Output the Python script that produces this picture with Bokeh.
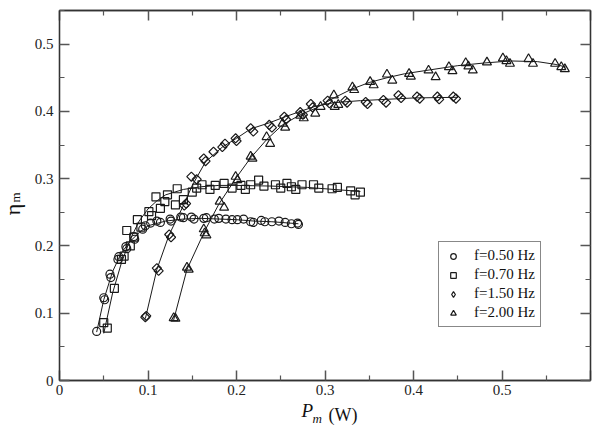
import numpy as np
from bokeh.plotting import figure
from bokeh.models import (LinearAxis, FixedTicker, CustomJSTickFormatter, Label,
                          Legend, LegendItem)
from bokeh.embed import file_html
from bokeh.resources import INLINE

# ---------------- data ----------------
# f = 0.50 Hz (circles)
c_x = [0.042, 0.050, 0.057, 0.067, 0.075, 0.084, 0.094, 0.103, 0.114, 0.126, 0.137,
       0.149, 0.163, 0.175, 0.188, 0.201, 0.216, 0.228, 0.240, 0.255, 0.269,
       0.051, 0.058, 0.066, 0.076, 0.085, 0.097, 0.110, 0.125, 0.140, 0.152,
       0.166, 0.180, 0.195, 0.208, 0.219, 0.232, 0.248, 0.262, 0.270]
c_y = [0.073, 0.123, 0.158, 0.184, 0.199, 0.214, 0.225, 0.234, 0.235, 0.237, 0.243,
       0.243, 0.241, 0.240, 0.240, 0.239, 0.236, 0.238, 0.236, 0.235, 0.234,
       0.120, 0.153, 0.180, 0.196, 0.210, 0.230, 0.237, 0.240, 0.242, 0.240,
       0.242, 0.241, 0.239, 0.240, 0.235, 0.236, 0.237, 0.233, 0.232]
c_fx = [0.042, 0.050, 0.060, 0.070, 0.080, 0.090, 0.100, 0.120, 0.140, 0.160, 0.180,
        0.200, 0.220, 0.240, 0.270]
c_fy = [0.072, 0.120, 0.162, 0.190, 0.207, 0.220, 0.230, 0.237, 0.240, 0.241, 0.240,
        0.239, 0.237, 0.236, 0.233]

# f = 0.70 Hz (squares)
s_x = [0.050, 0.054, 0.062, 0.070, 0.073, 0.076, 0.080, 0.084, 0.088, 0.092, 0.101,
       0.104, 0.109, 0.114, 0.119, 0.122, 0.131, 0.133, 0.140, 0.150, 0.155, 0.161,
       0.170, 0.176, 0.186, 0.195, 0.205, 0.210, 0.216, 0.225, 0.231, 0.244, 0.250,
       0.257, 0.262, 0.267, 0.274, 0.287, 0.293, 0.308, 0.314, 0.329, 0.334, 0.340]
s_y = [0.086, 0.078, 0.137, 0.180, 0.185, 0.223, 0.200, 0.213, 0.239, 0.228, 0.251,
       0.245, 0.273, 0.256, 0.266, 0.276, 0.261, 0.285, 0.269, 0.280, 0.286, 0.291,
       0.284, 0.290, 0.293, 0.286, 0.290, 0.284, 0.291, 0.298, 0.289, 0.291, 0.286,
       0.293, 0.288, 0.284, 0.291, 0.291, 0.286, 0.285, 0.287, 0.282, 0.276, 0.280]
s_fx = [0.050, 0.060, 0.070, 0.080, 0.090, 0.100, 0.110, 0.120, 0.140, 0.160, 0.180,
        0.200, 0.240, 0.280, 0.310, 0.340]
s_fy = [0.070, 0.130, 0.175, 0.210, 0.237, 0.255, 0.267, 0.276, 0.284, 0.288, 0.290,
        0.290, 0.289, 0.287, 0.284, 0.281]

# f = 1.50 Hz (diamonds)
d_x = [0.097, 0.098, 0.110, 0.112, 0.124, 0.126, 0.141, 0.143, 0.149, 0.155, 0.163,
       0.165, 0.174, 0.184, 0.187, 0.199, 0.200, 0.216, 0.219, 0.237, 0.240, 0.254,
       0.256, 0.272, 0.275, 0.284, 0.286, 0.303, 0.305, 0.323, 0.325, 0.346, 0.348,
       0.366, 0.369, 0.383, 0.386, 0.404, 0.407, 0.427, 0.429, 0.445, 0.448]
d_y = [0.094, 0.096, 0.167, 0.163, 0.217, 0.213, 0.260, 0.263, 0.303, 0.299, 0.330,
       0.326, 0.340, 0.347, 0.352, 0.360, 0.356, 0.375, 0.370, 0.380, 0.376, 0.392,
       0.388, 0.399, 0.395, 0.411, 0.406, 0.416, 0.412, 0.416, 0.413, 0.414, 0.411,
       0.417, 0.413, 0.424, 0.420, 0.422, 0.419, 0.422, 0.418, 0.422, 0.419]
d_fx = [0.097, 0.110, 0.124, 0.140, 0.150, 0.165, 0.184, 0.200, 0.216, 0.237, 0.255,
        0.272, 0.290, 0.310, 0.340, 0.370, 0.400, 0.450]
d_fy = [0.092, 0.165, 0.217, 0.260, 0.290, 0.325, 0.347, 0.360, 0.374, 0.383, 0.392,
        0.400, 0.408, 0.413, 0.416, 0.418, 0.420, 0.421]

# f = 2.00 Hz (triangles)
t_x = [0.129, 0.131, 0.144, 0.146, 0.163, 0.164, 0.166, 0.181, 0.186, 0.199, 0.201,
       0.216, 0.218, 0.234, 0.238, 0.252, 0.255, 0.272, 0.276, 0.289, 0.295, 0.310,
       0.311, 0.315, 0.331, 0.333, 0.351, 0.355, 0.370, 0.376, 0.395, 0.397, 0.417,
       0.425, 0.440, 0.444, 0.459, 0.462, 0.467, 0.483, 0.501, 0.505, 0.509, 0.530,
       0.535, 0.560, 0.567, 0.571]
t_y = [0.093, 0.092, 0.168, 0.165, 0.225, 0.219, 0.216, 0.266, 0.257, 0.303, 0.298,
       0.333, 0.330, 0.362, 0.352, 0.382, 0.376, 0.394, 0.390, 0.397, 0.407, 0.424,
       0.407, 0.410, 0.436, 0.432, 0.444, 0.439, 0.455, 0.446, 0.456, 0.452, 0.461,
       0.451, 0.466, 0.460, 0.472, 0.467, 0.461, 0.473, 0.479, 0.475, 0.471, 0.478,
       0.471, 0.471, 0.466, 0.463]
t_fx = [0.129, 0.144, 0.164, 0.180, 0.200, 0.216, 0.234, 0.252, 0.272, 0.290, 0.310,
        0.330, 0.350, 0.370, 0.390, 0.420, 0.450, 0.480, 0.510, 0.540, 0.560, 0.572]
t_fy = [0.090, 0.165, 0.222, 0.262, 0.302, 0.331, 0.358, 0.380, 0.395, 0.405, 0.420,
        0.433, 0.443, 0.450, 0.456, 0.462, 0.468, 0.472, 0.475, 0.474, 0.470, 0.466]

legend_labels = ["f=0.50 Hz", "f=0.70 Hz", "f=1.50 Hz", "f=2.00 Hz"]
x_ticks = [0.0, 0.1, 0.2, 0.3, 0.4, 0.5, 0.6]
x_minor = [0.05, 0.15, 0.25, 0.35, 0.45, 0.55]
y_ticks = [0.0, 0.1, 0.2, 0.3, 0.4, 0.5]
y_minor = [0.05, 0.15, 0.25, 0.35, 0.45, 0.55]

# ---------------- figure ----------------
FONT = "Liberation Serif"
TC = "#111111"
p = figure(width=600, height=438, x_range=(0, 0.6), y_range=(0, 0.55),
           output_backend="svg", toolbar_location=None,
           min_border_left=59, min_border_right=10, min_border_top=8,
           min_border_bottom=58)
p.grid.visible = False
p.outline_line_color = "#333333"
p.outline_line_width = 1.3

fmt = CustomJSTickFormatter(code="return tick == 0 ? '0' : tick.toFixed(1);")


def style_axis(ax, show_labels):
    ax.major_tick_in = 10
    ax.major_tick_out = 0
    ax.minor_tick_in = 5
    ax.minor_tick_out = 0
    ax.major_tick_line_color = "#555555"
    ax.major_tick_line_width = 1.5
    ax.minor_tick_line_color = "#555555"
    ax.minor_tick_line_width = 1.2
    ax.axis_line_color = "#333333"
    ax.axis_line_width = 1.3
    if show_labels:
        ax.major_label_text_font = FONT
        ax.major_label_text_font_size = "15px"
        ax.major_label_text_color = "#222222"
        ax.formatter = fmt
    else:
        ax.major_label_text_font_size = "0px"
        ax.major_label_text_alpha = 0
        ax.major_label_standoff = 0


xa = p.xaxis[0]
xa.ticker = FixedTicker(ticks=x_ticks, minor_ticks=x_minor)
style_axis(xa, True)
xa.major_label_standoff = 4
xa.major_label_overrides = {0.6: ""}

ya = p.yaxis[0]
ya.ticker = FixedTicker(ticks=y_ticks, minor_ticks=y_minor)
style_axis(ya, True)
ya.major_label_standoff = 6

ax_top = LinearAxis(ticker=FixedTicker(ticks=x_ticks, minor_ticks=x_minor))
style_axis(ax_top, False)
p.add_layout(ax_top, "above")
ax_right = LinearAxis(ticker=FixedTicker(ticks=y_ticks, minor_ticks=y_minor))
style_axis(ax_right, False)
p.add_layout(ax_right, "right")

# ---------------- curves and markers ----------------
LC = "#1a1a1a"
for fx, fy in ((c_fx, c_fy), (s_fx, s_fy), (d_fx, d_fy), (t_fx, t_fy)):
    p.line(fx, fy, line_color=LC, line_width=1)

rc = p.scatter(c_x, c_y, marker="circle", size=8, fill_color=None, line_color=LC, line_width=1.2)
rs = p.scatter(s_x, s_y, marker="square", size=8, fill_color=None, line_color=LC, line_width=1.2)
rd = p.scatter(d_x, d_y, marker="square", angle=np.pi / 4, size=6.5, fill_color=None,
               line_color=LC, line_width=1.2)
rt = p.scatter(t_x, t_y, marker="triangle", size=9, fill_color=None, line_color=LC, line_width=1.2)
# hidden twin of the diamond series, used only for its legend glyph
rd_leg = p.scatter(d_x, d_y, marker="diamond", size=10, fill_color=None,
                   line_color=LC, line_width=1.2, visible=False)

legend = Legend(items=[LegendItem(label=legend_labels[0], renderers=[rc]),
                       LegendItem(label=legend_labels[1], renderers=[rs]),
                       LegendItem(label=legend_labels[2], renderers=[rd_leg]),
                       LegendItem(label=legend_labels[3], renderers=[rt])],
                location=(379, 53))
legend.label_text_font = FONT
legend.label_text_font_size = "15px"
legend.label_text_color = TC
legend.label_height = 14
legend.glyph_height = 14
legend.glyph_width = 18
legend.spacing = 2
legend.padding = 5
legend.label_standoff = 12
legend.border_line_color = TC
legend.border_line_width = 1
legend.background_fill_alpha = 1
legend.inactive_fill_alpha = 0
p.add_layout(legend, "center")

# ---------------- axis titles, in the side panels (not clipped) ----------------
# x title "P_m (W)":  P below, subscript m right panel, "(W)" left panel
p.add_layout(Label(x=242, y=8, x_units="screen", y_units="screen", text="P",
                   text_font=FONT, text_font_style="italic", text_font_size="19px",
                   text_color=TC, text_baseline="alphabetic"), "below")
# y title "η_m": η below panel (rotated), subscript m above panel (rotated)
p.add_layout(Label(x=-47, y=221, x_units="screen", y_units="screen", text="η",
                   angle=np.pi / 2, text_font=FONT, text_font_size="22px",
                   text_color=TC, text_baseline="alphabetic", text_align="center"), "below")
p.add_layout(Label(x=326, y=-34, x_units="screen", y_units="screen", text="(W)",
                   text_font=FONT, text_font_size="18px",
                   text_color=TC, text_baseline="alphabetic"), "left")
p.add_layout(Label(x=-278, y=-38, x_units="screen", y_units="screen", text="m",
                   text_font=FONT, text_font_style="italic", text_font_size="13px",
                   text_color=TC, text_baseline="alphabetic"), "right")
p.add_layout(Label(x=-44, y=-187, x_units="screen", y_units="screen", text="m",
                   angle=np.pi / 2, text_font=FONT, text_font_size="13px",
                   text_color=TC, text_baseline="alphabetic", text_align="center"), "above")

open("out.html", "w").write(file_html(p, INLINE))
